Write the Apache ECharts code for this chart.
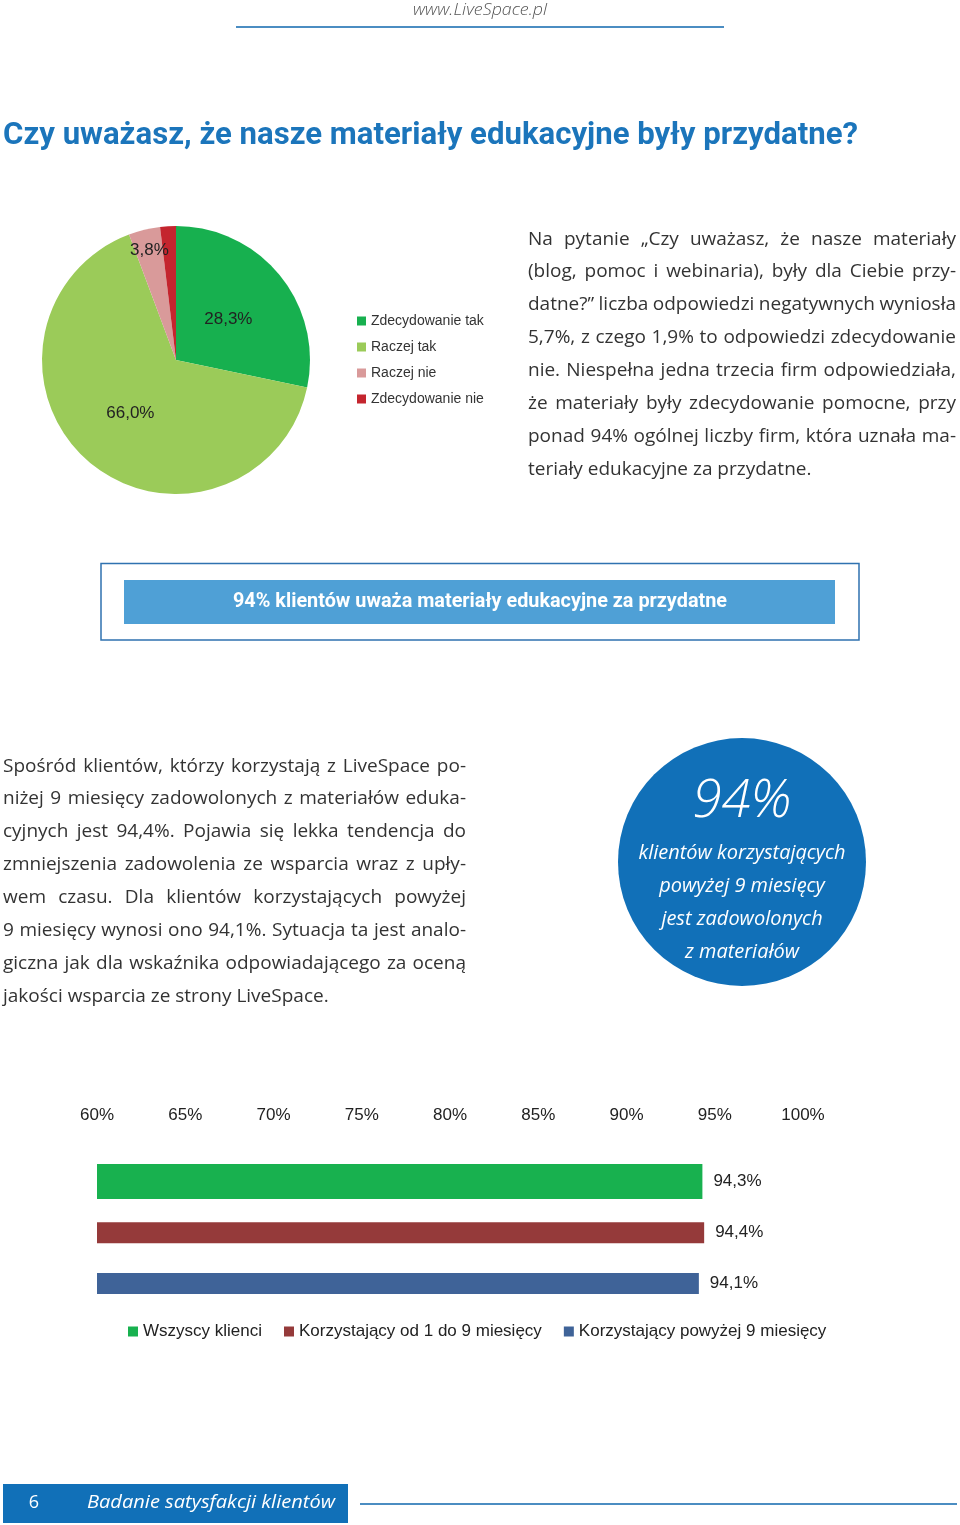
<!DOCTYPE html>
<html>
<head>
<meta charset="utf-8">
<script src="https://cdn.jsdelivr.net/npm/echarts@6/dist/echarts.min.js"></script>
<style>
html,body{margin:0;padding:0;background:#fff;}
#page{position:relative;width:960px;height:1525px;overflow:hidden;background:#fff;}
#chart{position:absolute;left:0;top:0;width:960px;height:1525px;}
.para{position:absolute;font-family:"Open Sans","Noto Sans",sans-serif;font-size:19px;color:#333;}
.para div{height:32.9px;line-height:32.9px;white-space:nowrap;}
</style>
</head>
<body>
<div id="page">
  <div id="chart"></div>
  <div class="para" id="pRight" style="left:528px;top:221.5px;width:428px;"></div>
  <div class="para" id="pLeft" style="left:3px;top:748.5px;width:463px;"></div>
</div>
<script>
// ---------------- DATA ----------------
const pieNames = ['Zdecydowanie tak', 'Raczej tak', 'Raczej nie', 'Zdecydowanie nie'];
const pieValues = [28.3, 66.0, 3.8, 1.9];
const pieShowLabel = [true, true, true, false];
const pieColors = ['#17b04f', '#9bcb59', '#d99a9a', '#c4252e'];

const barNames = ['Wszyscy klienci', 'Korzystający od 1 do 9 miesięcy', 'Korzystający powyżej 9 miesięcy'];
const barValues = [94.3, 94.4, 94.1];
const barColors = ['#18b14f', '#953a3a', '#3f6398'];
const barThickness = [35, 21, 21];
// one row per bar, plus an empty spacer row above and below
const barRows = ['padTop', 'row1', 'row2', 'row3', 'padBottom'];
const axisMin = 60, axisMax = 100, axisStep = 5;

const headerText = 'www.LiveSpace.pl';
const titleText = 'Czy uważasz, że nasze materiały edukacyjne były przydatne?';
const bannerText = '94% klientów uważa materiały edukacyjne za przydatne';
const circleBig = '94%';
const circleLines = ['klientów korzystających', 'powyżej 9 miesięcy', 'jest zadowolonych', 'z materiałów'];
const footerNum = '6';
const footerText = 'Badanie satysfakcji klientów';

const rightParaLines = [
  'Na pytanie „Czy uważasz, że nasze materiały',
  '(blog, pomoc i webinaria), były dla Ciebie przy-',
  'datne?” liczba odpowiedzi negatywnych wyniosła',
  '5,7%, z czego 1,9% to odpowiedzi zdecydowanie',
  'nie. Niespełna jedna trzecia firm odpowiedziała,',
  'że materiały były zdecydowanie pomocne, przy',
  'ponad 94% ogólnej liczby firm, która uznała ma-',
  'teriały edukacyjne za przydatne.'
];
const leftParaLines = [
  'Spośród klientów, którzy korzystają z LiveSpace po-',
  'niżej 9 miesięcy zadowolonych z materiałów eduka-',
  'cyjnych jest 94,4%. Pojawia się lekka tendencja do',
  'zmniejszenia zadowolenia ze wsparcia wraz z upły-',
  'wem czasu. Dla klientów korzystających powyżej',
  '9 miesięcy wynosi ono 94,1%. Sytuacja ta jest analo-',
  'giczna jak dla wskaźnika odpowiadającego za oceną',
  'jakości wsparcia ze strony LiveSpace.'
];

// ---------------- HELPERS ----------------
const mctx = document.createElement('canvas').getContext('2d');
function measure(text, font) { mctx.font = font; return mctx.measureText(text).width; }
function fmtPct(v) { return v.toFixed(1).replace('.', ',') + '%'; }

function fitText(text, x, y, align, targetW, st) {
  const font = (st.fontStyle || 'normal') + ' ' + (st.fontWeight || 'normal') + ' ' + st.fontSize + 'px ' + st.fontFamily;
  const w = measure(text, font);
  const s = targetW ? targetW / w : 1;
  return {
    type: 'text', x: x, y: y, scaleX: s, silent: true,
    style: Object.assign({ text: text, x: 0, y: 0, textAlign: align, textVerticalAlign: 'middle' }, st)
  };
}

function buildPara(el, lines) {
  const W = el.clientWidth;
  lines.forEach(function (ln, i) {
    const d = document.createElement('div');
    const s = document.createElement('span');
    s.textContent = ln;
    d.appendChild(s);
    el.appendChild(d);
    if (i < lines.length - 1) {
      const natural = s.getBoundingClientRect().width;
      const spaces = (ln.match(/ /g) || []).length;
      if (spaces) s.style.wordSpacing = ((W - natural) / spaces) + 'px';
    }
  });
}
buildPara(document.getElementById('pRight'), rightParaLines);
buildPara(document.getElementById('pLeft'), leftParaLines);

// ---------------- CHART ----------------
const chart = echarts.init(document.getElementById('chart'), null, { renderer: 'canvas' });
const calib = '"Liberation Sans", Arial, sans-serif';
const fira = '"Open Sans", "Noto Sans", sans-serif';
const cond = 'Roboto, "Open Sans", sans-serif';

const circleScale = (function () {
  const f = 'italic normal 20px ' + fira;
  return 207 / measure(circleLines[0], f);
})();

const graphics = [
  // header
  fitText(headerText, 480, 10, 'center', 134, { fontFamily: fira, fontSize: 17, fontStyle: 'italic', fontWeight: 300, fill: '#555' }),
  { type: 'line', silent: true, shape: { x1: 236, y1: 27, x2: 724, y2: 27 }, style: { stroke: '#4b8dc2', lineWidth: 2 } },
  // title
  fitText(titleText, 3, 136, 'left', 855, { fontFamily: cond, fontSize: 32, fontWeight: 'bold', fill: '#1b75bb' }),
  // banner
  { type: 'rect', silent: true, shape: { x: 101, y: 563.5, width: 758, height: 76.5 }, style: { fill: '#fff', stroke: '#2f72b0', lineWidth: 1.5 } },
  { type: 'rect', silent: true, shape: { x: 124, y: 580, width: 711, height: 44 }, style: { fill: '#4fa0d6' } },
  fitText(bannerText, 480, 601.5, 'center', 494, { fontFamily: cond, fontSize: 20, fontWeight: 'bold', fill: '#fff' }),
  // circle
  { type: 'circle', silent: true, shape: { cx: 742, cy: 862, r: 124 }, style: { fill: '#1170b8' } },
  fitText(circleBig, 742, 802, 'center', 99, { fontFamily: fira, fontSize: 54, fontStyle: 'italic', fontWeight: 300, fill: '#fff' }),
  // footer
  { type: 'rect', silent: true, shape: { x: 3, y: 1484, width: 345, height: 39 }, style: { fill: '#1170b8' } },
  fitText(footerNum, 34, 1503, 'center', 0, { fontFamily: fira, fontSize: 18, fill: '#fff' }),
  fitText(footerText, 87, 1503, 'left', 248, { fontFamily: fira, fontSize: 19, fontStyle: 'italic', fill: '#fff' }),
  { type: 'line', silent: true, shape: { x1: 360, y1: 1504, x2: 957, y2: 1504 }, style: { stroke: '#4b8dc2', lineWidth: 2 } }
];
circleLines.forEach(function (t, i) {
  graphics.push({
    type: 'text', x: 742, y: 853 + i * 33, scaleX: circleScale, silent: true,
    style: { text: t, x: 0, y: 0, textAlign: 'center', textVerticalAlign: 'middle', fontFamily: fira, fontSize: 20, fontStyle: 'italic', fill: '#fff' }
  });
});

const pieData = pieNames.map(function (n, i) {
  return { name: n, value: pieValues[i], itemStyle: { color: pieColors[i] }, label: { show: pieShowLabel[i] } };
});

const barSeries = barNames.map(function (n, i) {
  return {
    type: 'bar', name: n, stack: 'stack' + i,
    xAxisIndex: 0, yAxisIndex: 0,
    data: barRows.map(function (r, j) { return j === i + 1 ? barValues[i] : '-'; }),
    barWidth: barThickness[i], barGap: '-48%',
    itemStyle: { color: barColors[i] },
    label: {
      show: true, position: 'right', distance: 11,
      formatter: function (p) { return fmtPct(p.value); },
      fontFamily: calib, fontSize: 17, color: '#222'
    },
    silent: true
  };
});

const option = {
  animation: false,
  backgroundColor: 'transparent',
  graphic: graphics,
  legend: [
    {
      data: pieNames, orient: 'vertical', left: 357, top: 314, padding: 0,
      itemWidth: 9, itemHeight: 9, itemGap: 12, icon: 'rect', selectedMode: false,
      textStyle: { fontFamily: calib, fontSize: 14, color: '#333' }
    },
    {
      data: barNames, orient: 'horizontal', left: 128, top: 1323, padding: 0,
      itemWidth: 10, itemHeight: 10, itemGap: 22, icon: 'rect', selectedMode: false,
      textStyle: { fontFamily: calib, fontSize: 17, color: '#222' }
    }
  ],
  grid: { left: 97, right: 157, top: 1129, height: 200, outerBoundsMode: 'none', containLabel: false },
  xAxis: {
    type: 'value', position: 'top', min: axisMin, max: axisMax, interval: axisStep,
    axisLine: { show: false }, axisTick: { show: false }, splitLine: { show: false },
    axisLabel: { margin: 5, formatter: '{value}%', fontFamily: calib, fontSize: 17, color: '#222' }
  },
  yAxis: { type: 'category', data: barRows, inverse: true, show: false },
  series: [
    {
      type: 'pie', name: 'pie', center: [176, 360], radius: 134, startAngle: 90, clockwise: true,
      data: pieData, silent: true,
      label: {
        show: true, position: 'inside',
        formatter: function (p) { return fmtPct(p.value); },
        fontFamily: calib, fontSize: 17, color: '#222'
      },
      labelLine: { show: false },
      labelLayout: function (p) {
        if (p.dataIndex === 2) return { dx: -10, dy: -42 };
        if (p.dataIndex === 0) return { dx: -2, dy: 3 };
        return {};
      },
      itemStyle: { borderWidth: 0 }
    }
  ].concat(barSeries)
};
chart.setOption(option);
</script>
</body>
</html>
